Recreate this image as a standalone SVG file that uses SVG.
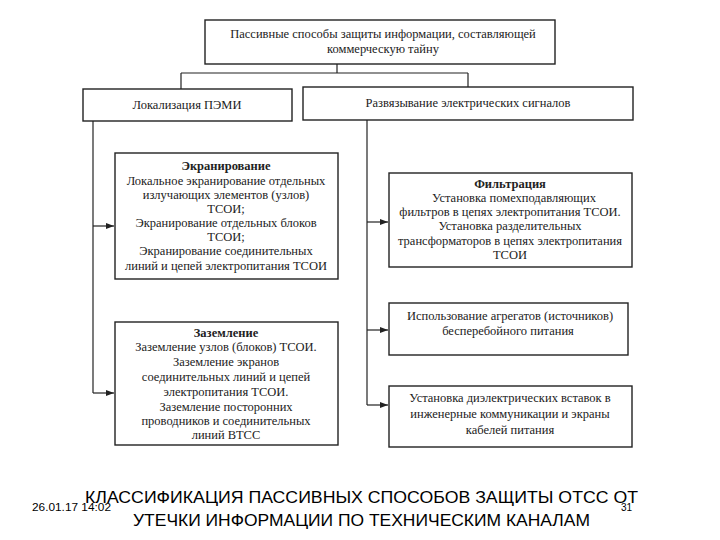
<svg xmlns="http://www.w3.org/2000/svg" width="720" height="540" viewBox="0 0 720 540">
<defs>
<marker id="ah" markerWidth="8" markerHeight="6" refX="8" refY="3" orient="auto" markerUnits="userSpaceOnUse">
<path d="M0,0 L8,3 L0,6 Z" fill="#222"/>
</marker>
<style>
.box{fill:#fff;stroke:#222;stroke-width:1.4}
.t{font-family:'Liberation Serif','DejaVu Serif','Noto Serif',serif;font-size:12.5px;fill:#222;text-anchor:middle}
.b{font-weight:bold}
.c{fill:none;stroke:#222;stroke-width:1.2}
.cap{font-family:'Liberation Sans',Arial,sans-serif;fill:#000}
</style>
</defs>
<rect width="720" height="540" fill="#fff"/>
<g id="connectors">
<path class="c" d="M337,64 V73 M181,73 H468 M181,73 V89 M468,73 V87"/>
<path class="c" d="M93,121 V393" />
<path class="c" d="M93,226 H114" marker-end="url(#ah)"/>
<path class="c" d="M93,393 H114" marker-end="url(#ah)"/>
<path class="c" d="M367,120 V405"/>
<path class="c" d="M367,222 H388" marker-end="url(#ah)"/>
<path class="c" d="M367,330 H388" marker-end="url(#ah)"/>
<path class="c" d="M367,405 H388" marker-end="url(#ah)"/>
</g>
<g id="root">
<rect class="box" x="205" y="20" width="350" height="44"/>
<text class="t" x="383" y="38">Пассивные способы защиты информации, составляющей</text>
<text class="t" x="383" y="53">коммерческую тайну</text>
</g>
<g id="lokal">
<rect class="box" x="83" y="89" width="209" height="32"/>
<text class="t" x="187" y="109">Локализация ПЭМИ</text>
</g>
<g id="razv">
<rect class="box" x="303" y="87" width="330" height="33"/>
<text class="t" x="468" y="107">Развязывание электрических сигналов</text>
</g>
<g id="ekran">
<rect class="box" x="115" y="153" width="223" height="126"/>
<text class="t b" x="226" y="170">Экранирование</text>
<text class="t" x="226" y="185">Локальное экранирование отдельных</text>
<text class="t" x="226" y="199">излучающих элементов (узлов)</text>
<text class="t" x="226" y="213">ТСОИ;</text>
<text class="t" x="226" y="227">Экранирование отдельных блоков</text>
<text class="t" x="226" y="241">ТСОИ;</text>
<text class="t" x="226" y="255">Экранирование соединительных</text>
<text class="t" x="226" y="270">линий и цепей электропитания ТСОИ</text>
</g>
<g id="zazem">
<rect class="box" x="115" y="322" width="223" height="123"/>
<text class="t b" x="226" y="337">Заземление</text>
<text class="t" x="226" y="351">Заземление узлов (блоков) ТСОИ.</text>
<text class="t" x="226" y="366">Заземление экранов</text>
<text class="t" x="226" y="381">соединительных линий и цепей</text>
<text class="t" x="226" y="396">электропитания ТСОИ.</text>
<text class="t" x="226" y="411">Заземление посторонних</text>
<text class="t" x="226" y="425">проводников и соединительных</text>
<text class="t" x="226" y="439">линий ВТСС</text>
</g>
<g id="filtr">
<rect class="box" x="389" y="173" width="243" height="94"/>
<text class="t b" x="510" y="188">Фильтрация</text>
<text class="t" x="514" y="202">Установка помехподавляющих</text>
<text class="t" x="510" y="216">фильтров в цепях электропитания ТСОИ.</text>
<text class="t" x="510" y="230">Установка разделительных</text>
<text class="t" x="510" y="245">трансформаторов в цепях электропитания</text>
<text class="t" x="510" y="259">ТСОИ</text>
</g>
<g id="agreg">
<rect class="box" x="389" y="303" width="239" height="52"/>
<text class="t" x="510" y="320">Использование агрегатов (источников)</text>
<text class="t" x="508" y="335">бесперебойного питания</text>
</g>
<g id="dielek">
<rect class="box" x="389" y="386" width="243" height="61"/>
<text class="t" x="510" y="402">Установка диэлектрических вставок в</text>
<text class="t" x="510" y="418">инженерные коммуникации и экраны</text>
<text class="t" x="510" y="434">кабелей питания</text>
</g>
<g id="caption">
<text class="cap" x="85" y="503" font-size="17" textLength="553" lengthAdjust="spacingAndGlyphs">КЛАССИФИКАЦИЯ ПАССИВНЫХ СПОСОБОВ ЗАЩИТЫ ОТСС ОТ</text>
<text class="cap" x="133" y="526" font-size="17" textLength="457" lengthAdjust="spacingAndGlyphs">УТЕЧКИ ИНФОРМАЦИИ ПО ТЕХНИЧЕСКИМ КАНАЛАМ</text>
<text class="cap" x="32" y="511" font-size="10" textLength="79" lengthAdjust="spacingAndGlyphs">26.01.17 14:02</text>
<text class="cap" x="621" y="511" font-size="10">31</text>
</g>
</svg>
